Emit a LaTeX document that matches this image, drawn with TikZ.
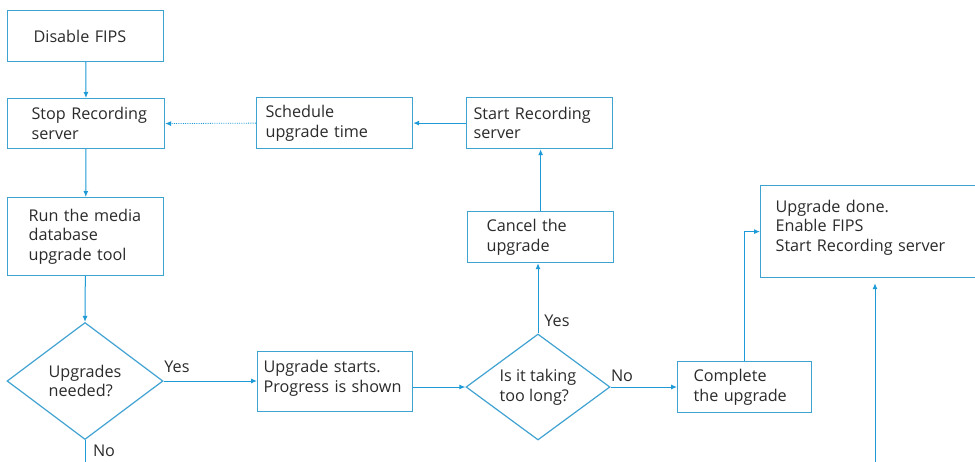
\documentclass[tikz,border=0pt]{standalone}
\usepackage{fontspec}
\setmainfont{Open Sans}
\usetikzlibrary{shapes.geometric,arrows.meta,calc}
\definecolor{lnc}{HTML}{1E9BD7}
\definecolor{bxc}{HTML}{3FA3D2}
\definecolor{txc}{HTML}{2B2B2B}
\tikzset{
  every node/.style={text=txc, font=\fontsize{16.2}{19.6}\selectfont},
  box/.style={draw=bxc, line width=1.2pt, rectangle, align=left, inner ysep=0pt, anchor=north west},
  dia/.style={draw=bxc, line width=1.2pt, diamond, inner sep=0pt, align=left, shape aspect=1.35},
  conn/.style={draw=lnc, line width=1pt, -{Latex[length=6pt,width=5pt]}},
  plain/.style={draw=lnc, line width=1pt},
  dotconn/.style={draw=lnc, line width=0.8pt, densely dotted, -{Latex[length=6pt,width=5pt]}},
  lbl/.style={inner sep=0pt}
}
\begin{document}
\begin{tikzpicture}[x=1pt,y=-1pt]
\clip (0,0) rectangle (975,461);
\fill[white] (0,0) rectangle (975,461);
\node[box, minimum width=156pt, minimum height=51pt, text width=130pt, inner xsep=13pt] (fips) at (7,10) {\hspace*{13pt}Disable FIPS};
\node[box, minimum width=157pt, minimum height=50pt, text width=133pt, inner xsep=12pt] (stop) at (7,98) {\hspace*{12pt}Stop Recording\\\hspace*{12pt}server};
\node[box, minimum width=156pt, minimum height=78pt, text width=136pt, inner xsep=10pt] (run) at (7,197) {\hspace*{11pt}Run the media\\\hspace*{11pt}database\\\hspace*{11pt}upgrade tool};
\node[box, minimum width=156pt, minimum height=51pt, text width=138pt, inner xsep=9pt] (sched) at (256,97) {Schedule\\upgrade time};
\node[box, minimum width=146pt, minimum height=51pt, text width=132pt, inner xsep=7pt] (start) at (466,97) {Start Recording\\server};
\node[box, minimum width=146pt, minimum height=51pt, text width=126pt, inner xsep=10pt] (cancel) at (467,211) {\hspace*{9pt}Cancel the\\\hspace*{9pt}upgrade};
\node[box, minimum width=155pt, minimum height=60pt, text width=143pt, inner xsep=6pt] (upg) at (257,351) {Upgrade starts.\\Progress is shown\\[-9pt]\mbox{}};
\node[box, minimum width=134pt, minimum height=51pt, text width=118pt, inner xsep=8pt] (comp) at (677,361) {\hspace*{8pt}Complete\\\hspace*{8pt}the upgrade};
\node[box, minimum width=240pt, minimum height=92pt, text width=210pt, inner xsep=15pt] (done) at (760,185) {Upgrade done.\\Enable FIPS\\Start Recording server\\[-8pt]\mbox{}};
\node[dia, minimum width=156pt, minimum height=117pt] (d1) at (85,381) {Upgrades\\needed?};
\node[dia, minimum width=144pt, minimum height=106pt] (d2) at (538,387) {Is it taking\\too long?};
\draw[conn] (fips) -- (stop);
\draw[conn] (stop) -- (run);
\draw[conn] (run) -- (d1.north);
\coordinate (d1end) at (85,470);
\draw[plain] (d1.south) -- (d1end);
\draw[conn] (d1.east) -- (upg.west |- d1.east);
\draw[conn] (d2.west -| upg.east) -- (d2.west);
\draw[conn] (d2.north) -- (d2.north |- cancel.south);
\draw[conn] (cancel.north) -- (cancel.north |- start.south);
\draw[conn] (start.west) -- (sched.east);
\draw[dotconn] (sched.west) -- (stop.east);
\draw[conn] (d2.east) -- (comp.west |- d2.east);
\draw[conn] (comp.north) -- (comp.north |- done.west) -- (done.west);
\coordinate (bot) at (875,470);
\draw[conn] (bot) -- ([yshift=-5pt]done.south -| bot);
\node[lbl] (l1) at (177,367) {Yes};
\node[lbl] (l2) at (104,451) {No};
\node[lbl] (l3) at (557,321) {Yes};
\node[lbl] (l4) at (622,376) {No};
\end{tikzpicture}
\end{document}
